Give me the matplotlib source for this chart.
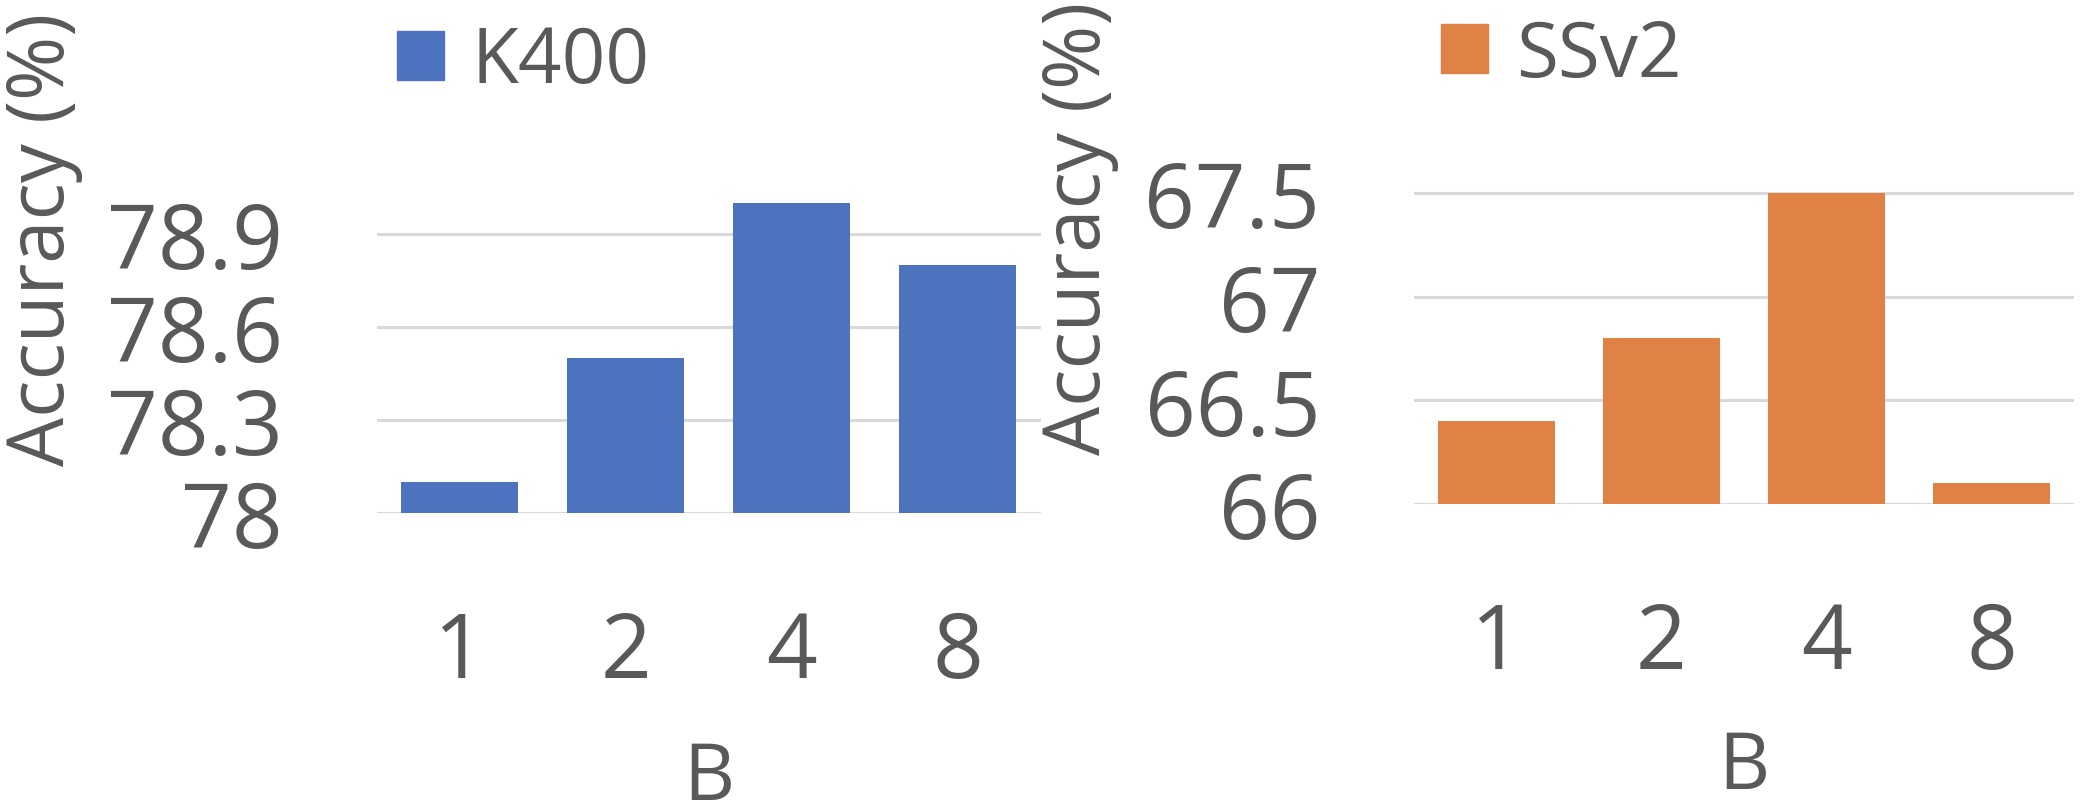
import matplotlib
matplotlib.use("Agg")
import matplotlib.pyplot as plt
from matplotlib.patches import Patch

# ---- data ----
categories = ["1", "2", "4", "8"]
k400_values = [78.1, 78.5, 79.0, 78.8]
ssv2_values = [66.4, 66.8, 67.5, 66.1]
k400_ticks = [78, 78.3, 78.6, 78.9]
k400_ticklabels = ["78", "78.3", "78.6", "78.9"]
ssv2_ticks = [66, 66.5, 67, 67.5]
ssv2_ticklabels = ["66", "66.5", "67", "67.5"]
series_names = ["K400", "SSv2"]
xlabel = "B"
ylabel = "Accuracy (%)"

plt.rcParams['font.family'] = ['Open Sans', 'DejaVu Sans']
TXT = "#595959"
GRID = "#D9D9D9"
BLUE = "#4E73BE"
ORANGE = "#E08245"

W, H = 2092, 804
fig = plt.figure(figsize=(W / 100, H / 100), dpi=100)


def fx(px):
    return px / W


def fy(py):
    return 1 - py / H


panels = [
    dict(vals=k400_values, ticks=k400_ticks, tl=k400_ticklabels, color=BLUE,
         name=series_names[0], x0=376.5, x1=1041, base=514, ppu=310.3, ylim=(78, 79.1),
         ylab_x=83, ylab_y=239, xlab_y=740, leg=(397, 25)),
    dict(vals=ssv2_values, ticks=ssv2_ticks, tl=ssv2_ticklabels, color=ORANGE,
         name=series_names[1], x0=1414, x1=2074, base=505, ppu=207.4, ylim=(66, 67.6),
         ylab_x=1119, ylab_y=228, xlab_y=729, leg=(1441, 18)),
]

for p in panels:
    top = p["base"] - (p["ylim"][1] - p["ylim"][0]) * p["ppu"]
    ax = fig.add_axes([fx(p["x0"]), fy(p["base"]), fx(p["x1"] - p["x0"]), (p["base"] - top) / H])
    xs = list(range(len(categories)))
    ax.bar(xs, [v - p["ylim"][0] for v in p["vals"]], bottom=p["ylim"][0],
           width=0.705, color=p["color"], zorder=3, label=p["name"])
    ax.set_xlim(-0.5, len(categories) - 0.5)
    ax.set_ylim(*p["ylim"])
    ax.set_yticks(p["ticks"])
    ax.set_yticklabels(p["tl"])
    ax.set_xticks(xs)
    ax.set_xticklabels(categories)
    ax.grid(axis="y", color=GRID, linewidth=2.2, zorder=0)
    ax.set_axisbelow(True)
    for s in ax.spines.values():
        s.set_visible(False)
    ax.tick_params(axis="y", length=0, pad=67.5, labelsize=64, labelcolor=TXT)
    ax.tick_params(axis="x", length=0, pad=69, labelsize=64, labelcolor=TXT)
    ax.set_ylabel(ylabel, fontsize=56, color=TXT)
    ax.yaxis.set_label_coords(fx(p["ylab_x"]), fy(p["ylab_y"]), transform=fig.transFigure)
    ax.set_xlabel(xlabel, fontsize=57, color=TXT)
    ax.xaxis.set_label_coords(fx((p["x0"] + p["x1"]) / 2), fy(p["xlab_y"]), transform=fig.transFigure)
    ax.legend(handles=[Patch(color=p["color"], label=p["name"])], loc="upper left",
              bbox_to_anchor=(fx(p["leg"][0]), fy(p["leg"][1])), bbox_transform=fig.transFigure,
              frameon=False, borderpad=0, borderaxespad=0, fontsize=55,
              handlelength=0.61, handleheight=0.61, handletextpad=0.37, labelcolor=TXT)

fig.savefig("out.png", dpi=100)
